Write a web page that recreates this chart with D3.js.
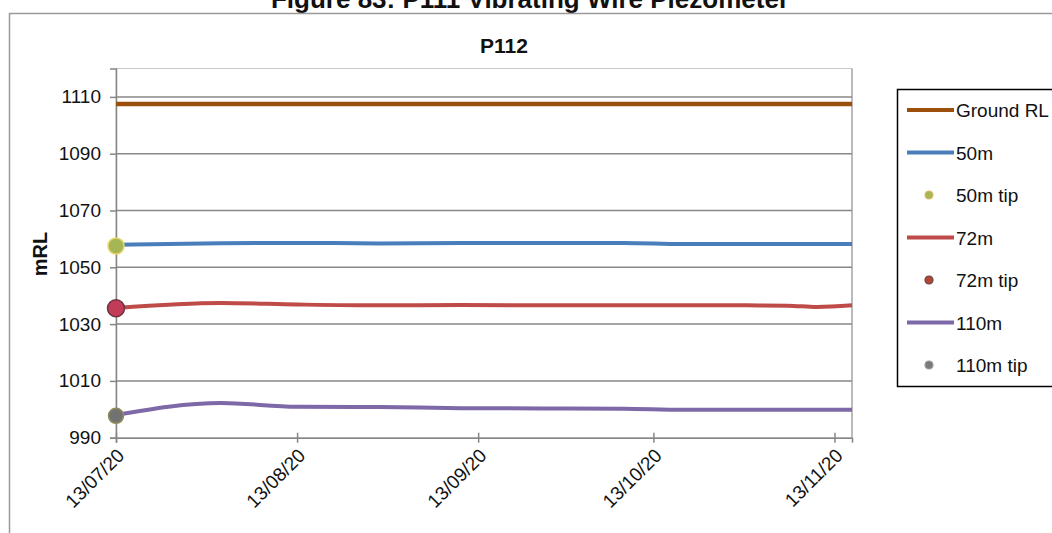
<!DOCTYPE html>
<html>
<head>
<meta charset="utf-8">
<script src="https://cdn.jsdelivr.net/npm/d3@7"></script>
<style>
  html, body { margin: 0; padding: 0; background: #fff; }
  svg { display: block; font-family: Arial, "Liberation Sans", sans-serif; }
</style>
</head>
<body>
<svg id="chart" width="1052" height="533"></svg>
<script>
// Reading dates (dd/mm/yy)
const dates = ["13/07/20", "31/07/20", "13/08/20", "27/08/20", "10/09/20", "24/09/20",
               "08/10/20", "18/10/20", "29/10/20", "05/11/20", "10/11/20", "16/11/20"];

// Water levels, mRL
const groundRL = [1107.5, 1107.5, 1107.5, 1107.5, 1107.5, 1107.5, 1107.5, 1107.5, 1107.5, 1107.5, 1107.5, 1107.5];
const level50m = [1057.9, 1058.5, 1058.6, 1058.4, 1058.6, 1058.6, 1058.6, 1058.2, 1058.2, 1058.2, 1058.2, 1058.2];
const level72m = [1035.7, 1037.4, 1036.9, 1036.6, 1036.7, 1036.6, 1036.6, 1036.6, 1036.6, 1036.5, 1036.0, 1036.6];
const level110m = [998.0, 1002.2, 1000.9, 1000.8, 1000.4, 1000.3, 1000.2, 999.8, 999.8, 999.8, 999.8, 999.8];

// Tip elevations, plotted at the first reading
const tipDate = "13/07/20";
const tip50m = 1057.5;
const tip72m = 1035.6;
const tip110m = 997.7;

const yTicks = [990, 1010, 1030, 1050, 1070, 1090, 1110];
const xTicks = ["13/07/20", "13/08/20", "13/09/20", "13/10/20", "13/11/20"];
const xDomain = ["13/07/20", "16/11/20"];
const yDomain = [990, 1120];

const figureTitle = "Figure 83: P111 Vibrating Wire Piezometer";
const chartTitle = "P112";
const yLabel = "mRL";

const parse = d3.utcParse("%d/%m/%y");
const fmt = d3.utcFormat("%d/%m/%y");

const svg = d3.select("#chart");
const plot = { left: 116, right: 852, top: 68.5, bottom: 437.7 };

const x = d3.scaleUtc().domain(xDomain.map(parse)).range([plot.left, plot.right]);
const y = d3.scaleLinear().domain(yDomain).range([plot.bottom, plot.top]);

// Figure caption (runs off the top edge of the page)
svg.append("text")
  .attr("x", 530).attr("y", 8)
  .attr("text-anchor", "middle")
  .attr("font-weight", "bold").attr("font-size", 26)
  .attr("fill", "#111")
  .text(figureTitle);

// Chart area frame
svg.append("rect")
  .attr("x", 9.5).attr("y", 13.5).attr("width", 1100).attr("height", 600)
  .attr("fill", "#fff").attr("stroke", "#9a9a9a").attr("stroke-width", 1.5);

// Plot area frame
svg.append("rect")
  .attr("x", plot.left).attr("y", plot.top)
  .attr("width", plot.right - plot.left).attr("height", plot.bottom - plot.top)
  .attr("fill", "none").attr("stroke", "#c8c8c8").attr("stroke-width", 1);
svg.append("line")
  .attr("x1", plot.right).attr("x2", plot.right)
  .attr("y1", plot.top).attr("y2", plot.bottom)
  .attr("stroke", "#a0a0a0").attr("stroke-width", 1.2);

// Horizontal gridlines
svg.append("g").selectAll("line").data(yTicks.slice(1)).join("line")
  .attr("x1", plot.left).attr("x2", plot.right)
  .attr("y1", d => y(d)).attr("y2", d => y(d))
  .attr("stroke", "#878787").attr("stroke-width", 1.5);

// Y axis
const yAxis = svg.append("g")
  .attr("transform", `translate(${plot.left},0)`)
  .call(d3.axisLeft(y).tickValues(yTicks).tickFormat(d3.format("d")).tickSize(6).tickPadding(9));
yAxis.select(".domain").attr("stroke", "#868686").attr("stroke-width", 1.5);
yAxis.selectAll(".tick line").attr("stroke", "#868686").attr("stroke-width", 1.5);
yAxis.selectAll(".tick text").attr("font-size", 19).attr("font-family", "Arial, 'Liberation Sans', sans-serif").attr("fill", "#111");

// X axis
const xAxis = svg.append("g")
  .attr("transform", `translate(0,${plot.bottom})`)
  .call(d3.axisBottom(x).tickValues(xTicks.map(parse)).tickFormat(fmt).tickSize(5).tickPadding(4));
xAxis.select(".domain").attr("stroke", "#868686").attr("stroke-width", 1.5);
xAxis.selectAll(".tick line").attr("y1", -5).attr("stroke", "#868686").attr("stroke-width", 1.5);
xAxis.selectAll(".tick text")
  .attr("font-size", 19).attr("font-family", "Arial, 'Liberation Sans', sans-serif").attr("fill", "#111")
  .attr("text-anchor", "end")
  .attr("dy", null).attr("y", 0)
  .attr("transform", "translate(9,19) rotate(-45)");

// Chart title and y label
svg.append("text")
  .attr("x", 504).attr("y", 53)
  .attr("text-anchor", "middle")
  .attr("font-weight", "bold").attr("font-size", 21).attr("fill", "#111")
  .text(chartTitle);
svg.append("text")
  .attr("transform", "translate(47,254) rotate(-90)")
  .attr("text-anchor", "middle")
  .attr("font-weight", "bold").attr("font-size", 20).attr("fill", "#111")
  .text(yLabel);

// Series lines
const parsedDates = dates.map(parse);
const line = d3.line().x(d => x(d[0])).y(d => y(d[1])).curve(d3.curveMonotoneX);
const series = [
  { name: "Ground RL", values: groundRL, color: "#9c4f0c", width: 4.5 },
  { name: "50m", values: level50m, color: "#4a7ebb", width: 4 },
  { name: "72m", values: level72m, color: "#be4b48", width: 4 },
  { name: "110m", values: level110m, color: "#7d68a8", width: 4 }
];
series.forEach(s => {
  svg.append("path")
    .datum(parsedDates.map((d, i) => [d, s.values[i]]))
    .attr("fill", "none")
    .attr("stroke", s.color)
    .attr("stroke-width", s.width)
    .attr("stroke-linejoin", "round")
    .attr("d", line);
});

// Tip markers
const tips = [
  { name: "50m tip", value: tip50m, fill: "#a5b655", stroke: "#e6d66a", r: 8 },
  { name: "72m tip", value: tip72m, fill: "#c23c58", stroke: "#6e3440", r: 8.5 },
  { name: "110m tip", value: tip110m, fill: "#727272", stroke: "#8e8c5c", r: 7.5 }
];
tips.forEach(t => {
  svg.append("circle")
    .attr("cx", x(parse(tipDate))).attr("cy", y(t.value))
    .attr("r", t.r)
    .attr("fill", t.fill).attr("stroke", t.stroke).attr("stroke-width", 1.5);
});

// Legend
const legend = svg.append("g");
legend.append("rect")
  .attr("x", 897.5).attr("y", 89.5).attr("width", 200).attr("height", 297)
  .attr("fill", "#fff").attr("stroke", "#000").attr("stroke-width", 1.5);
const legendItems = [
  { label: "Ground RL", type: "line", color: "#9c4f0c" },
  { label: "50m", type: "line", color: "#4a7ebb" },
  { label: "50m tip", type: "dot", fill: "#a5b655", stroke: "#e6b66a" },
  { label: "72m", type: "line", color: "#be4b48" },
  { label: "72m tip", type: "dot", fill: "#b5442e", stroke: "#5a4a50" },
  { label: "110m", type: "line", color: "#7d68a8" },
  { label: "110m tip", type: "dot", fill: "#7a7a7a", stroke: "#9a9a9a" }
];
legendItems.forEach((it, i) => {
  const cy = 110 + i * 42.5;
  if (it.type === "line") {
    legend.append("line")
      .attr("x1", 907).attr("x2", 954).attr("y1", cy).attr("y2", cy)
      .attr("stroke", it.color).attr("stroke-width", 4);
  } else {
    legend.append("circle")
      .attr("cx", 929).attr("cy", cy).attr("r", 4)
      .attr("fill", it.fill).attr("stroke", it.stroke).attr("stroke-width", 1.2);
  }
  legend.append("text")
    .attr("x", 956).attr("y", cy + 7)
    .attr("font-size", 19).attr("fill", "#111")
    .text(it.label);
});
</script>
</body>
</html>
